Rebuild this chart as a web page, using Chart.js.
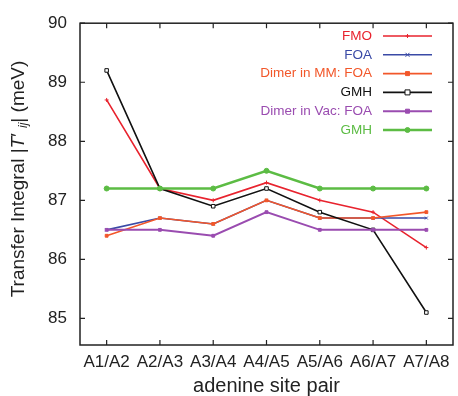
<!DOCTYPE html>
<html>
<head>
<meta charset="utf-8">
<script src="https://cdn.jsdelivr.net/npm/chart.js@4.4.1/dist/chart.umd.min.js"></script>
<style>
  html, body { margin: 0; padding: 0; background: #fff; }
</style>
</head>
<body>
<canvas id="chart" width="458" height="396"></canvas>
<script>
const pairs = ['A1/A2', 'A2/A3', 'A3/A4', 'A4/A5', 'A5/A6', 'A6/A7', 'A7/A8'];
const yTicks = [85, 86, 87, 88, 89, 90];

const fmo     = [88.7, 87.2, 87.0, 87.3, 87.0, 86.8, 86.2];
const foa     = [86.5, 86.7, 86.6, 87.0, 86.7, 86.7, 86.7];
const dimerMM = [86.4, 86.7, 86.6, 87.0, 86.7, 86.7, 86.8];
const gmh     = [89.2, 87.2, 86.9, 87.2, 86.8, 86.5, 85.1];
const dimerVac= [86.5, 86.5, 86.4, 86.8, 86.5, 86.5, 86.5];
const gmhVac  = [87.2, 87.2, 87.2, 87.5, 87.2, 87.2, 87.2];

const FONT = '"Liberation Sans", Arial, sans-serif';

function series(label, data, color, style, radius, opts) {
  return Object.assign({
    label: label,
    data: data,
    borderColor: color,
    backgroundColor: color,
    pointBackgroundColor: color,
    pointBorderColor: color,
    borderWidth: 1.6,
    pointStyle: style,
    pointRadius: radius,
    pointBorderWidth: 1,
    tension: 0
  }, opts || {});
}

const datasets = [
  series('FMO', fmo, '#e8232e', 'cross', 2),
  series('FOA', foa, '#3a4aa6', 'crossRot', 2),
  series('Dimer in MM: FOA', dimerMM, '#f2572a', 'rect', 2),
  series('GMH', gmh, '#111111', 'rect', 2.5, { pointBackgroundColor: '#ffffff' }),
  series('Dimer in Vac: FOA', dimerVac, '#9a4cb0', 'rect', 2, { borderWidth: 2 }),
  series('GMH', gmhVac, '#5cbc44', 'circle', 2.5, { borderWidth: 2.6 })
];
// later series sit on top, as in the original
datasets.forEach((d, i) => { d.order = datasets.length - i; });

function marker(ctx, ds, x, y) {
  const r = ds.pointRadius;
  ctx.save();
  ctx.lineWidth = ds.pointBorderWidth;
  ctx.strokeStyle = ds.pointBorderColor;
  ctx.fillStyle = ds.pointBackgroundColor;
  ctx.beginPath();
  if (ds.pointStyle === 'rect') {
    ctx.rect(x - r, y - r, 2 * r, 2 * r);
    ctx.fill(); ctx.stroke();
  } else if (ds.pointStyle === 'circle') {
    ctx.arc(x, y, r, 0, Math.PI * 2);
    ctx.fill(); ctx.stroke();
  } else if (ds.pointStyle === 'cross') {
    ctx.moveTo(x - r, y); ctx.lineTo(x + r, y);
    ctx.moveTo(x, y - r); ctx.lineTo(x, y + r);
    ctx.stroke();
  } else {
    ctx.moveTo(x - r, y - r); ctx.lineTo(x + r, y + r);
    ctx.moveTo(x - r, y + r); ctx.lineTo(x + r, y - r);
    ctx.stroke();
  }
  ctx.restore();
}

// frame with inward ticks on all four sides
const frame = {
  id: 'frame',
  afterDatasetsDraw(chart) {
    const { ctx, chartArea: a, scales } = chart;
    ctx.save();
    ctx.strokeStyle = '#222';
    ctx.lineWidth = 1.5;
    ctx.strokeRect(a.left, a.top, a.right - a.left, a.bottom - a.top);
    ctx.lineWidth = 1.2;
    ctx.beginPath();
    scales.x.ticks.forEach((t, i) => {
      const x = scales.x.getPixelForTick(i);
      ctx.moveTo(x, a.bottom); ctx.lineTo(x, a.bottom - 5);
      ctx.moveTo(x, a.top); ctx.lineTo(x, a.top + 5);
    });
    scales.y.ticks.forEach((t, i) => {
      const y = scales.y.getPixelForTick(i);
      ctx.moveTo(a.left, y); ctx.lineTo(a.left + 5, y);
      ctx.moveTo(a.right, y); ctx.lineTo(a.right - 5, y);
    });
    ctx.stroke();
    ctx.restore();
  }
};

// legend: right-aligned text followed by a line sample
const legendBox = {
  id: 'legendBox',
  afterDraw(chart) {
    const ctx = chart.ctx;
    ctx.save();
    ctx.font = '13.5px ' + FONT;
    ctx.textAlign = 'right';
    ctx.textBaseline = 'middle';
    chart.data.datasets.forEach((ds, i) => {
      const y = 36 + i * 18.8;
      ctx.fillStyle = ds.borderColor;
      ctx.fillText(ds.label, 372, y);
      ctx.strokeStyle = ds.borderColor;
      ctx.lineWidth = ds.borderWidth;
      ctx.beginPath();
      ctx.moveTo(383, y); ctx.lineTo(432, y);
      ctx.stroke();
      marker(ctx, ds, 407.5, y);
    });
    ctx.restore();
  }
};

// y title with italic T and subscript ij
const yTitle = {
  id: 'yTitle',
  afterDraw(chart) {
    const ctx = chart.ctx;
    const size = 19;
    const parts = [
      { t: 'Transfer Integral |', f: size + 'px ' + FONT, dy: 0 },
      { t: 'T', f: 'italic ' + size + 'px ' + FONT, dy: 0 },
      { t: '\u2032 ', f: size + 'px ' + FONT, dy: 0 },
      { t: 'ij', f: 'italic ' + Math.round(size * 0.65) + 'px ' + FONT, dy: 5 },
      { t: '| (meV)', f: size + 'px ' + FONT, dy: 0 }
    ];
    ctx.save();
    let total = 0;
    parts.forEach(p => { ctx.font = p.f; p.w = ctx.measureText(p.t).width; total += p.w; });
    ctx.translate(19, 179);
    ctx.rotate(-Math.PI / 2);
    ctx.fillStyle = '#222';
    ctx.textBaseline = 'middle';
    ctx.textAlign = 'left';
    let x = -total / 2;
    parts.forEach(p => { ctx.font = p.f; ctx.fillText(p.t, x, p.dy); x += p.w; });
    ctx.restore();
  }
};

new Chart(document.getElementById('chart'), {
  type: 'line',
  data: { labels: pairs, datasets: datasets },
  plugins: [frame, legendBox, yTitle],
  options: {
    responsive: false,
    animation: false,
    devicePixelRatio: 1,
    layout: { padding: { top: 20, right: 2, left: 0, bottom: 0 } },
    plugins: {
      legend: { display: false },
      tooltip: { enabled: false }
    },
    scales: {
      x: {
        offset: true,
        grid: { display: false, drawTicks: false },
        border: { display: false },
        ticks: { color: '#222', padding: 7, font: { family: FONT, size: 17 } },
        title: {
          display: true,
          text: 'adenine site pair',
          color: '#222',
          font: { family: FONT, size: 20, lineHeight: 1 },
          padding: { top: 0, bottom: 0 }
        },
        afterFit(scale) { scale.height = 51; }
      },
      y: {
        min: 84.55,
        max: 90,
        grid: { display: false, drawTicks: false },
        border: { display: false },
        ticks: { color: '#222', padding: 13, font: { family: FONT, size: 17 } },
        afterBuildTicks(scale) { scale.ticks = yTicks.map(v => ({ value: v })); },
        afterFit(scale) { scale.width = 80; }
      }
    }
  }
});
</script>
</body>
</html>
